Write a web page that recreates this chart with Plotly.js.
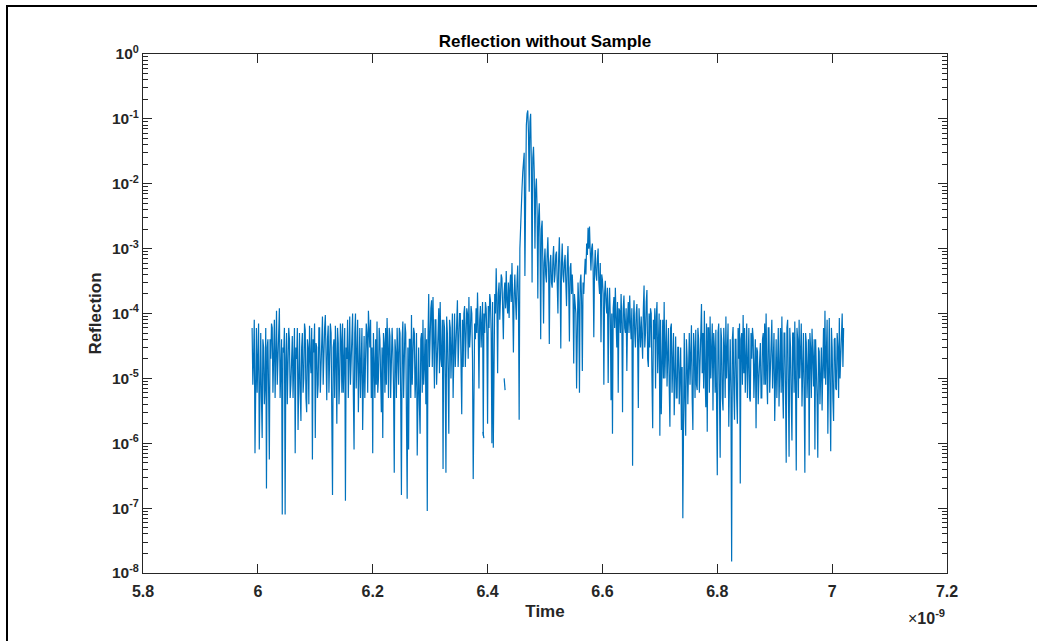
<!DOCTYPE html>
<html>
<head>
<meta charset="utf-8">
<script src="https://cdn.plot.ly/plotly-3.0.1.min.js"></script>
<style>
  html, body { margin: 0; padding: 0; width: 1037px; height: 641px; overflow: hidden; background: #fff; }
  #chart { position: absolute; left: 0; top: 0; width: 1037px; height: 641px; }
  #frame { position: absolute; left: 6px; top: 5px; width: 1100px; height: 700px;
           border-top: 2px solid #000; border-left: 2px solid #000; pointer-events: none; }
</style>
</head>
<body>
<div id="chart"></div>
<div id="frame"></div>
<script>
// Time axis: samples start at 5.99 (x 1e-9 s), spaced 0.00125 (x 1e-9 s)
const timeStart = 5.99;
const timeStep = 0.00125;

// Reflection values (one per sample)
const reflection = [
  6e-5,8e-6, 2e-5,8e-5, 7e-7,3e-5, 6e-5,6e-6, 1.5e-5,7e-5, 8e-7,2e-5, 5e-5,5e-6,
  1.2e-6,4e-5, 3e-5,4e-6, 8e-6,6e-5, 2e-7,3e-5, 4e-5,6e-6, 5.6e-7,4e-5, 2e-5,7e-5,
  6e-5,6e-6, 1.5e-5,8e-5, 5e-6,4e-5, 1.1e-4,8e-6, 3e-5,8e-5, 1.2e-4,5e-6, 1.5e-5,4e-5,
  8e-8,3e-5, 2.5e-5,6e-5, 8e-8,2e-5, 5e-5,4e-6, 1.2e-5,6e-5, 4e-5,5e-6, 8e-6,3e-5,
  4.5e-5,5e-6, 1.5e-5,6e-5, 7e-7,3e-5, 2e-5,6e-5, 1.6e-6,2.5e-5, 5e-5,6e-6, 2.2e-6,3e-5,
  5e-5,6e-6, 1e-5,7e-5, 5.5e-5,5e-6, 3e-6,4e-5, 3e-5,4e-6, 6.5e-5,2e-5, 1.2e-5,6e-5,
  5.6e-7,4e-5, 2.5e-5,7e-5, 1.2e-6,3.5e-5, 3e-5,5e-6, 8e-6,6e-5, 6e-5,6e-6, 2e-5,5e-5,
  9e-5,8e-6, 3e-5,6e-5, 9.5e-5,7e-6, 4.6e-6,4e-5, 6.5e-5,6e-6, 1.5e-5,7e-5, 5e-5,5e-6,
  1.6e-7,3e-5, 4e-5,5e-6, 6.5e-5,2e-5, 2e-6,6e-5, 3.5e-5,4e-6, 1e-5,7e-5, 4e-5,6e-6,
  7e-5,6e-6, 1.5e-5,6e-5, 1.3e-7,3e-5, 2e-5,8e-5, 5e-6,4e-5, 9e-5,8e-6, 2e-5,6e-5,
  1e-4,6e-6, 8e-7,5e-5, 1e-4,7e-6, 2.5e-5,8e-5, 3e-6,3e-5, 6e-5,5e-6, 1.5e-5,6e-5,
  1.6e-6,3e-5, 4.5e-5,5e-6, 1.2e-5,7e-5, 5e-5,6e-6, 1.1e-4,4e-5, 3e-5,8e-5, 5e-6,3e-5,
  7e-7,5e-5, 2e-5,5e-6, 4e-5,8e-6, 7.5e-5,6e-6, 1e-5,6e-5, 4e-5,5e-6, 3e-6,3e-5,
  1.2e-6,5e-5, 3.5e-5,6e-6, 6e-5,8e-6, 8.5e-5,3e-5, 5e-6,6e-5, 4.5e-5,5e-6, 1.2e-5,6e-5,
  3e-5,7e-6, 3.5e-7,4e-5, 2.5e-5,5e-6, 6e-5,8e-6, 8e-6,6e-5, 5e-5,5e-6, 1.6e-7,4e-5,
  7.5e-5,5e-6, 2e-5,7e-5, 5e-5,6e-6, 1.4e-7,3e-5, 8e-7,4e-5, 4e-5,5e-6, 9.5e-5,8e-6,
  2e-5,6e-5, 5e-5,5e-6, 1e-5,5e-5, 6.5e-7,3e-5, 3e-5,4e-6, 1.4e-6,4e-5, 5e-5,6e-6,
  8e-5,8e-6, 1.5e-5,6e-5, 4e-6,4e-5, 9e-8,4e-5, 2e-4,1.5e-5, 6e-5,1.2e-4, 1.6e-4,1.5e-5,
  1.8e-4,2e-5, 7e-6,8e-5, 8e-5,8e-6, 3e-5,1e-4, 1.2e-4,1.2e-5, 1.5e-4,2e-5, 1.5e-5,8e-5,
  4e-7,8e-5, 6e-5,1e-5, 3.5e-7,9e-5, 5e-5,1.2e-5, 1.4e-6,8e-5, 6e-5,1e-5, 5e-5,1e-4,
  5e-6,8e-5, 1e-4,1.5e-5, 3e-5,1.2e-4, 1.6e-4,1.5e-5, 5e-5,1e-4, 1e-4,1.5e-5, 2.8e-6,8e-5,
  1.5e-5,1e-4, 1.3e-4,1.5e-5, 4e-5,1.2e-4, 1e-4,2e-5, 1.8e-4,3e-5, 5e-5,1.3e-4, 1e-4,2e-5,
  2.8e-7,6e-5, 7e-5,4e-5, 1.2e-4,5e-5, 2.1e-4,6e-5, 7e-6,8e-5, 1.3e-4,3e-5, 6e-5,1.5e-4,
  1.3e-6,1e-4, 5e-5,1.5e-4, 1.2e-4,5e-5, 2e-6,1.3e-4, 6e-5,2e-4, 1.6e-4,5e-5, 1e-6,1.5e-4,
  8.5e-7,1.2e-4, 2e-4,1e-4, 5e-4,1.5e-4, 1.2e-5,2e-4, 3e-4,8e-5, 1.5e-4,4e-4, 3.5e-4,1.2e-4,
  4e-5,2e-4, 3e-4,1.2e-4, 4.5e-4,1.5e-4, 1e-4,3e-4, 8.5e-5,2.5e-4, 4e-4,1.5e-4, 6e-4,1.5e-4,
  2.5e-5,2e-4, 4e-4,1.5e-4, 8e-5,3e-4, 5.5e-4,1.5e-4, 2.3e-6,1e-3, 2.5e-3,4e-3, 8.6e-3,1.5e-2,
  2.2e-2,3e-2, 3.8e-4,5e-2, 8e-2,1.2e-1, 1.35e-1,6e-2, 7.5e-3,9e-2, 1.2e-1,2e-2, 3e-4,2.5e-2,
  3.7e-2,1.5e-2, 1e-3,8e-3, 1.2e-2,4e-3, 1.7e-4,3e-3, 5e-3,1.5e-3, 4e-5,2e-3, 2.7e-3,6e-4,
  7e-5,6e-4, 1e-3,4e-4, 3e-4,8e-4, 1.5e-3,5e-4, 3.4e-5,6e-4, 8e-4,3e-4, 2.5e-4,7e-4,
  1.1e-3,3e-4, 4e-4,8e-4, 9e-4,3e-4, 1e-4,7e-4, 1.5e-3,4e-4, 2.9e-5,6e-4, 1.2e-3,4e-4,
  3e-4,6e-4, 8e-4,3e-4, 1.3e-4,6e-4, 1.1e-3,2.5e-4, 3.7e-5,5e-4, 6e-4,2e-4, 4e-4,2e-4,
  1.7e-5,2e-4, 1.5e-4,1e-4, 7e-6,2e-4, 3e-4,1.5e-4, 6e-6,3e-4, 4e-4,1.5e-4, 1.3e-5,3e-4,
  2e-4,4e-4, 7e-4,4e-4, 1.2e-3,8e-4, 2.1e-3,1e-3, 2.2e-3,9e-4, 4.6e-4,1e-3, 1.2e-3,5e-4,
  4.3e-5,5e-4, 9.5e-4,4e-4, 3.2e-4,7e-4, 1e-3,3e-4, 2e-4,6e-4, 3.6e-5,4e-4, 3.3e-4,2e-4,
  8e-6,2e-4, 3.2e-4,1.5e-4, 1e-4,2.5e-4, 8.5e-6,1.2e-4, 2.5e-4,8e-5, 4.6e-6,1e-4, 1.4e-6,1.2e-4,
  1.8e-4,6e-5, 2.5e-4,8e-5, 3e-5,1.5e-4, 6e-6,1.2e-4, 1.1e-4,5e-5, 2e-4,7e-5, 3e-6,1.2e-4,
  1.9e-4,6e-5, 5e-5,1.2e-4, 1.3e-5,8e-5, 1.5e-4,5e-5, 1.9e-4,7e-5, 4e-5,1.2e-4, 4.5e-7,6e-5,
  1.6e-4,5e-5, 3e-5,1e-4, 1.4e-4,4e-5, 3.5e-6,1.2e-4, 6e-5,3e-5, 9e-5,4e-5, 2e-5,1.2e-4,
  2.7e-4,3e-5, 5e-5,1.5e-4, 2.3e-4,2e-5, 1.5e-5,1e-4, 3e-5,1.2e-4, 1e-4,1e-5, 1.7e-6,8e-5,
  4e-5,1.2e-4, 7e-6,9e-5, 1.5e-4,1.2e-5, 3e-5,1e-4, 1.3e-6,8e-5, 2.8e-6,6e-5, 8e-5,1e-5,
  1.5e-4,1e-5, 2e-5,8e-5, 7.5e-6,6e-5, 6e-5,8e-6, 1.8e-6,6e-5, 7e-5,6e-6, 1.5e-5,5e-5,
  2.7e-6,3e-5, 4.4e-5,5e-6, 5e-6,3e-5, 3e-5,4e-6, 8e-6,3e-5, 1.6e-6,1.5e-5, 7e-8,3e-5,
  5e-5,5e-6, 1.3e-6,4e-5, 2e-5,4e-6, 2.3e-5,5e-5, 8e-6,4e-5, 6.6e-5,5e-6, 1.6e-6,5e-5,
  3e-5,5e-6, 5.6e-5,8e-6, 6.6e-6,6e-5, 4e-5,6e-6, 1.5e-5,8e-5, 1.4e-4,1.2e-5, 5e-5,7e-6,
  1.1e-4,1.2e-5, 3.6e-6,7e-5, 1.5e-6,6e-5, 6e-5,6e-6, 9e-5,1e-5, 2e-5,7e-5, 3.2e-6,5e-5,
  3e-5,6e-6, 5.6e-5,1e-5, 3.2e-7,5e-5, 7e-5,6e-6, 6e-7,6e-5, 4e-5,5e-6, 3.2e-6,6e-5,
  3e-5,5e-6, 9e-5,1e-5, 2e-5,7e-5, 1.8e-6,4e-5, 4e-5,6e-6, 1.5e-8,4e-5, 6.2e-5,7e-6,
  2.3e-6,4e-5, 4e-5,5e-6, 2e-6,6e-5, 2e-5,7e-5, 2.4e-7,4e-5, 5e-5,8e-6, 9.5e-5,1.2e-5,
  6e-5,6e-6, 1.5e-5,7e-5, 5e-6,4e-5, 6e-5,5e-6, 4.4e-6,5e-5, 2e-5,6e-5, 4.2e-5,5e-6,
  1.2e-5,4e-5, 1.7e-6,3e-5, 2.6e-5,4e-6, 1e-5,3.5e-5, 3.5e-5,5e-6, 5e-6,4e-5, 5e-5,8e-6,
  7e-5,8e-6, 1e-4,1e-5, 4e-6,6e-5, 6e-5,6e-6, 2e-5,8e-5, 8e-5,7e-6, 1.5e-5,5e-5,
  2.2e-6,4e-5, 4e-5,5e-6, 2.9e-5,6e-5, 3.7e-6,4e-5, 6e-5,6e-6, 9e-5,8e-6, 2.4e-6,5e-5,
  5e-5,7e-6, 5e-7,6e-5, 8e-5,8e-6, 6.2e-7,6e-5, 3e-5,5e-6, 1.1e-6,5e-5, 5e-5,6e-6,
  7.5e-5,8e-6, 3.8e-7,6e-5, 4e-5,5e-6, 8e-5,1e-5, 2e-5,7e-5, 3.7e-6,5e-5, 5e-5,6e-6,
  3.5e-7,5e-5, 3.6e-5,5e-6, 1e-5,4e-5, 6.5e-7,5e-5, 3e-5,5e-6, 5.8e-5,8e-6, 7.5e-6,4e-5,
  8e-7,4e-5, 2e-5,5e-6, 6e-7,3e-5, 2.6e-5,4e-6, 1e-5,3e-5, 3.2e-6,4e-5, 6e-5,1e-5,
  1.1e-4,8e-6, 4e-5,8e-5, 1.4e-6,5e-5, 8.5e-5,6e-6, 7.5e-7,6e-5, 3e-5,5e-6, 2.2e-6,4e-5,
  4.2e-5,7e-6, 6.6e-6,5e-5, 3e-5,5e-6, 8.5e-5,1e-5, 2e-5,8e-5, 1e-4,1.5e-5, 6e-5
];

// Isolated short fragments (separated from the main trace by missing samples)
const fragmentTime = [6.392, 6.3935, null, 6.4289, 6.4305];
const fragmentValue = [1.5e-6, 1.2e-6, null, 1e-5, 6.6e-6];

// Axis ticks
const xTickVals = [5.8, 6, 6.2, 6.4, 6.6, 6.8, 7, 7.2];
const xTickText = ['5.8', '6', '6.2', '6.4', '6.6', '6.8', '7', '7.2'];
const yTickVals = [1e-8, 1e-7, 1e-6, 1e-5, 1e-4, 1e-3, 1e-2, 1e-1, 1];
const yTickText = ['10<sup>-8</sup>', '10<sup>-7</sup>', '10<sup>-6</sup>', '10<sup>-5</sup>',
                   '10<sup>-4</sup>', '10<sup>-3</sup>', '10<sup>-2</sup>', '10<sup>-1</sup>', '10<sup>0</sup>'];

const lineColor = '#0072BD';
const axisColor = '#262626';
const fontFamily = '"Liberation Sans", Arial, Helvetica, sans-serif';

const traces = [
  {
    type: 'scatter', mode: 'lines',
    x0: timeStart, dx: timeStep, y: reflection,
    line: { color: lineColor, width: 1.2 },
    connectgaps: false, hoverinfo: 'skip', showlegend: false
  },
  {
    type: 'scatter', mode: 'lines',
    x: fragmentTime, y: fragmentValue,
    line: { color: lineColor, width: 1.2 },
    connectgaps: false, hoverinfo: 'skip', showlegend: false
  }
];

const axisCommon = {
  showline: true, linecolor: axisColor, linewidth: 1, mirror: 'ticks',
  ticks: 'inside', tickcolor: axisColor, tickwidth: 1,
  showgrid: false, zeroline: false
};

const layout = {
  width: 1037, height: 641,
  paper_bgcolor: '#ffffff', plot_bgcolor: '#ffffff',
  margin: { l: 143, r: 90, t: 54, b: 68, pad: 0 },
  showlegend: false,
  title: {
    text: 'Reflection without Sample',
    font: { family: fontFamily, size: 17, color: '#000000', weight: 'bold' },
    xref: 'paper', x: 0.5, xanchor: 'center',
    yref: 'container', y: 1 - 41 / 641, yanchor: 'middle'
  },
  xaxis: Object.assign({}, axisCommon, {
    range: [5.8, 7.2], tickmode: 'array', tickvals: xTickVals, ticktext: xTickText,
    ticklen: 9, ticklabelstandoff: 4,
    tickfont: { family: fontFamily, size: 16, color: axisColor, weight: 'bold' },
    title: { text: 'Time', standoff: 5,
             font: { family: fontFamily, size: 17, color: axisColor, weight: 'bold' } }
  }),
  yaxis: Object.assign({}, axisCommon, {
    type: 'log', range: [-8, 0], tickmode: 'array', tickvals: yTickVals, ticktext: yTickText,
    ticklen: 9,
    tickfont: { family: fontFamily, size: 15.5, color: axisColor, weight: 'bold' },
    minor: { ticks: 'inside', ticklen: 5, tickcolor: axisColor, tickwidth: 1, dtick: 'D1', showgrid: false },
    title: { text: 'Reflection', standoff: 6,
             font: { family: fontFamily, size: 17, color: axisColor, weight: 'bold' } }
  }),
  annotations: [
    {
      xref: 'paper', yref: 'paper', x: 1, y: -44 / 519, xanchor: 'right', yanchor: 'middle',
      showarrow: false,
      text: '<span style="font-weight:normal">×</span>10<sup>-9</sup>',
      font: { family: fontFamily, size: 16, color: axisColor, weight: 'bold' }
    }
  ]
};

Plotly.newPlot('chart', traces, layout, { staticPlot: true, displayModeBar: false });
</script>
</body>
</html>
